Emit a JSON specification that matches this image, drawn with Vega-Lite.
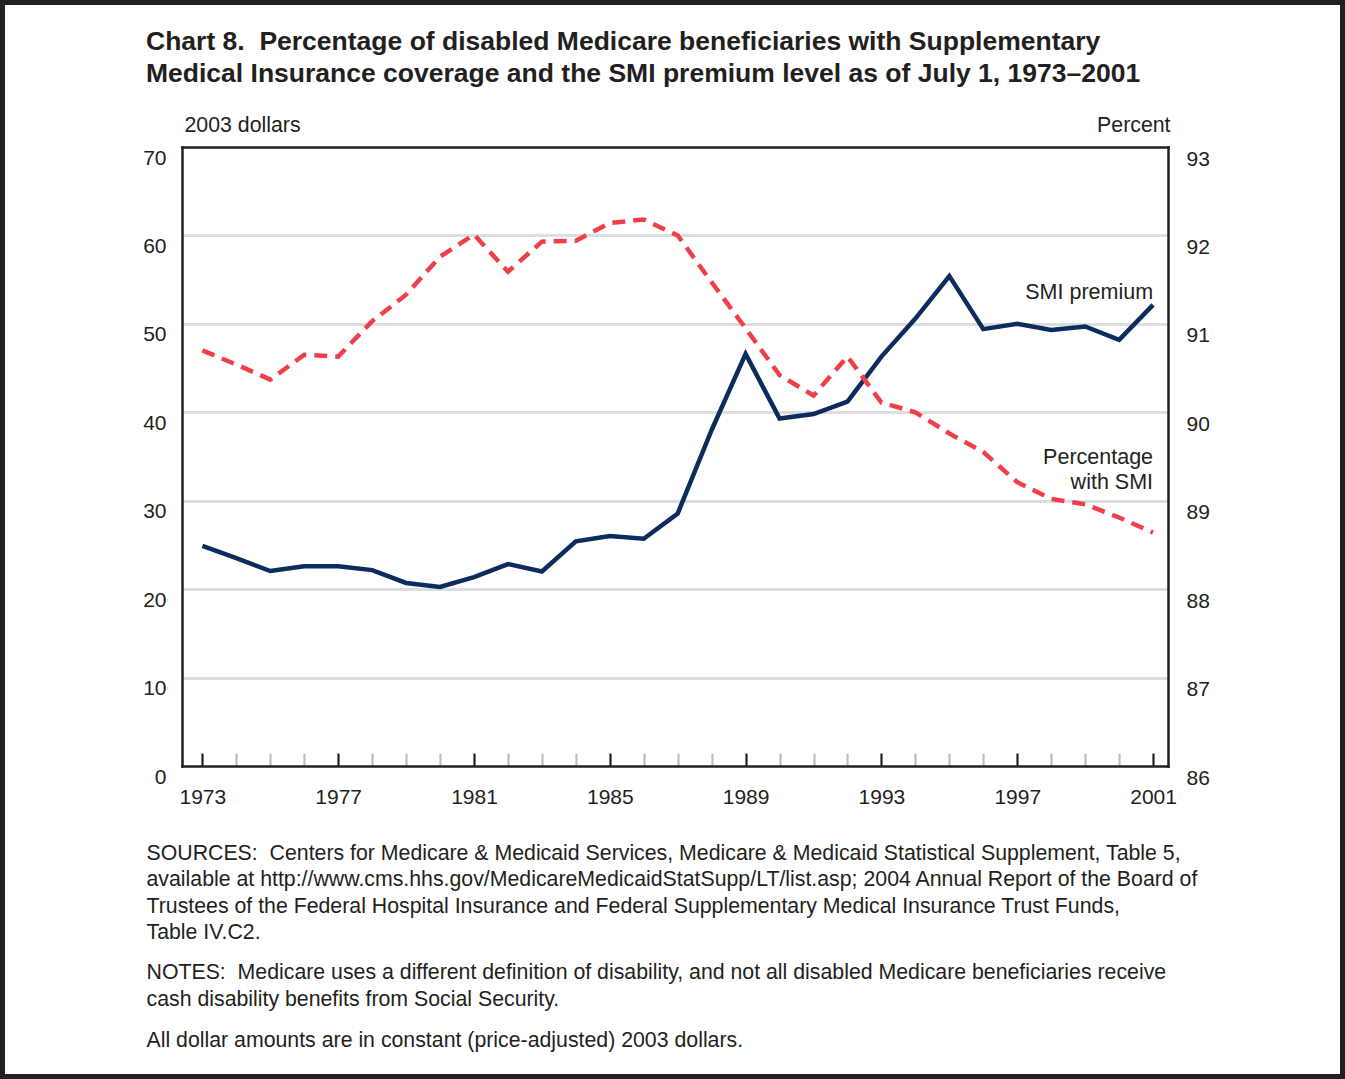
{
  "$schema": "https://vega.github.io/schema/vega-lite/v6.json",
  "width": 1345,
  "height": 1079,
  "autosize": {"type": "none"},
  "padding": 0,
  "background": "white",
  "title": {
    "text": ["Chart 8.\u00a0 Percentage of disabled Medicare beneficiaries with Supplementary", "Medical Insurance coverage and the SMI premium level as of July 1, 1973–2001"],
    "anchor": "start",
    "frame": "group",
    "orient": "top",
    "baseline": "top",
    "offset": -87,
    "dx": 146,
    "font": "Liberation Sans",
    "fontSize": 26.5,
    "fontWeight": "bold",
    "color": "#231f20",
    "lineHeight": 32
  },
  "data": {
    "values": [
      {"year": 1973, "premium": 24.9, "pct": 90.70},
      {"year": 1974, "premium": 23.5, "pct": 90.54},
      {"year": 1975, "premium": 22.05, "pct": 90.37},
      {"year": 1976, "premium": 22.6, "pct": 90.65},
      {"year": 1977, "premium": 22.6, "pct": 90.63},
      {"year": 1978, "premium": 22.15, "pct": 91.03},
      {"year": 1979, "premium": 20.7, "pct": 91.33},
      {"year": 1980, "premium": 20.24, "pct": 91.76},
      {"year": 1981, "premium": 21.36, "pct": 92.01},
      {"year": 1982, "premium": 22.84, "pct": 91.59},
      {"year": 1983, "premium": 22.0, "pct": 91.93},
      {"year": 1984, "premium": 25.4, "pct": 91.94},
      {"year": 1985, "premium": 26.0, "pct": 92.14},
      {"year": 1986, "premium": 25.7, "pct": 92.18},
      {"year": 1987, "premium": 28.56, "pct": 92.00},
      {"year": 1988, "premium": 38.0, "pct": 91.47},
      {"year": 1989, "premium": 46.6, "pct": 90.95},
      {"year": 1990, "premium": 39.3, "pct": 90.42},
      {"year": 1991, "premium": 39.8, "pct": 90.19},
      {"year": 1992, "premium": 41.2, "pct": 90.63},
      {"year": 1993, "premium": 46.3, "pct": 90.11},
      {"year": 1994, "premium": 50.6, "pct": 90.00},
      {"year": 1995, "premium": 55.4, "pct": 89.76},
      {"year": 1996, "premium": 49.4, "pct": 89.55},
      {"year": 1997, "premium": 50.0, "pct": 89.21},
      {"year": 1998, "premium": 49.3, "pct": 89.02},
      {"year": 1999, "premium": 49.7, "pct": 88.96},
      {"year": 2000, "premium": 48.2, "pct": 88.81},
      {"year": 2001, "premium": 52.15, "pct": 88.64}
    ]
  },
  "layer": [
    {
      "mark": {"type": "line", "color": "#0b2c5c", "strokeWidth": 4.5, "strokeJoin": "miter"},
      "encoding": {
        "x": {
          "field": "year", "type": "quantitative",
          "scale": {"domain": [1972.4, 2001.44], "range": [182, 1168], "nice": false, "zero": false},
          "axis": {
            "orient": "bottom", "offset": -313,
            "values": [1973,1974,1975,1976,1977,1978,1979,1980,1981,1982,1983,1984,1985,1986,1987,1988,1989,1990,1991,1992,1993,1994,1995,1996,1997,1998,1999,2000,2001],
            "format": "d",
            "labelExpr": "(datum.value - 1973) % 4 == 0 ? datum.label : ''",
            "ticks": true, "tickSize": -13, "tickWidth": 2.2,
            "tickColor": {"condition": {"test": "(datum.value - 1973) % 4 == 0", "value": "#231f20"}, "value": "#bcbec0"},
            "labelPadding": 33,
            "title": [
              "SOURCES:\u00a0 Centers for Medicare & Medicaid Services, Medicare & Medicaid Statistical Supplement, Table 5,",
              "available at http://www.cms.hhs.gov/MedicareMedicaidStatSupp/LT/list.asp; 2004 Annual Report of the Board of",
              "Trustees of the Federal Hospital Insurance and Federal Supplementary Medical Insurance Trust Funds,",
              "Table IV.C2."
            ],
            "titleFontSize": 21.3, "titleAlign": "left", "titleBaseline": "alphabetic",
            "titleX": 146, "titleY": 93.5, "titleLineHeight": 26.3
          }
        },
        "y": {
          "field": "premium", "type": "quantitative",
          "scale": {"domain": [0, 70], "range": [766, 147], "nice": false, "zero": false},
          "axis": {
            "orient": "left", "offset": -182,
            "values": [0, 10, 20, 30, 40, 50, 60, 70],
            "labelPadding": 16, "labelOffset": 11,
            "grid": true, "gridWidth": 3,
            "gridColor": {"condition": {"test": "datum.value == 0 || datum.value == 70", "value": "rgba(0,0,0,0)"}, "value": "#dcdddf"},
            "title": "2003 dollars", "titleAngle": 0, "titleAlign": "left", "titleBaseline": "alphabetic",
            "titleFontSize": 21.3, "titleX": 2, "titleY": 131
          }
        }
      }
    },
    {
      "mark": {"type": "line", "color": "#ef3f47", "strokeWidth": 4.5, "strokeDash": [13, 8], "strokeJoin": "miter"},
      "encoding": {
        "x": {
          "field": "year", "type": "quantitative",
          "axis": {
            "orient": "top", "offset": -147, "labels": false, "ticks": false,
            "title": [
              "NOTES:\u00a0 Medicare uses a different definition of disability, and not all disabled Medicare beneficiaries receive",
              "cash disability benefits from Social Security."
            ],
            "titleFontSize": 21.3, "titleAlign": "left", "titleBaseline": "alphabetic",
            "titleX": 146, "titleY": 831.5, "titleLineHeight": 27
          }
        },
        "y": {
          "field": "pct", "type": "quantitative",
          "scale": {"domain": [86, 93], "range": [766, 147], "nice": false, "zero": false},
          "axis": {
            "orient": "right", "offset": -177,
            "values": [86, 87, 88, 89, 90, 91, 92, 93],
            "labelPadding": 18, "labelOffset": 12,
            "title": "Percent", "titleAngle": 0, "titleAlign": "right", "titleBaseline": "alphabetic",
            "titleFontSize": 21.3, "titleX": 2, "titleY": 131
          }
        }
      }
    },
    {
      "data": {
        "values": [
          {"year": 2001, "value": 53.5, "label": "SMI premium"},
          {"year": 2001, "value": 34.85, "label": "Percentage\nwith SMI"}
        ]
      },
      "mark": {"type": "text", "align": "right", "baseline": "middle", "lineBreak": "\n", "lineHeight": 25, "font": "Liberation Sans", "fontSize": 21.5, "color": "#231f20"},
      "encoding": {
        "x": {
          "field": "year", "type": "quantitative",
          "axis": {
            "orient": "bottom", "offset": -313, "labels": false, "ticks": false, "domain": false,
            "title": "All dollar amounts are in constant (price-adjusted) 2003 dollars.",
            "titleFontSize": 21.3, "titleAlign": "left", "titleBaseline": "alphabetic",
            "titleX": 146, "titleY": 280.5
          }
        },
        "y": {
          "field": "value", "type": "quantitative",
          "scale": {"domain": [0, 70], "range": [766, 147], "nice": false, "zero": false},
          "axis": null
        },
        "text": {"field": "label"}
      }
    }
  ],
  "resolve": {"scale": {"y": "independent"}, "axis": {"x": "independent", "y": "independent"}},
  "config": {
    "font": "Liberation Sans",
    "view": {"stroke": "#231f20", "strokeWidth": 10},
    "axis": {
      "labelFont": "Liberation Sans", "labelFontSize": 21, "labelColor": "#231f20",
      "titleFont": "Liberation Sans", "titleFontWeight": "normal", "titleFontSize": 21, "titleColor": "#231f20",
      "domainColor": "#231f20", "domainWidth": 2.5, "domainCap": "square",
      "ticks": false, "grid": false, "labelFlush": false, "labelOverlap": false
    }
  }
}
